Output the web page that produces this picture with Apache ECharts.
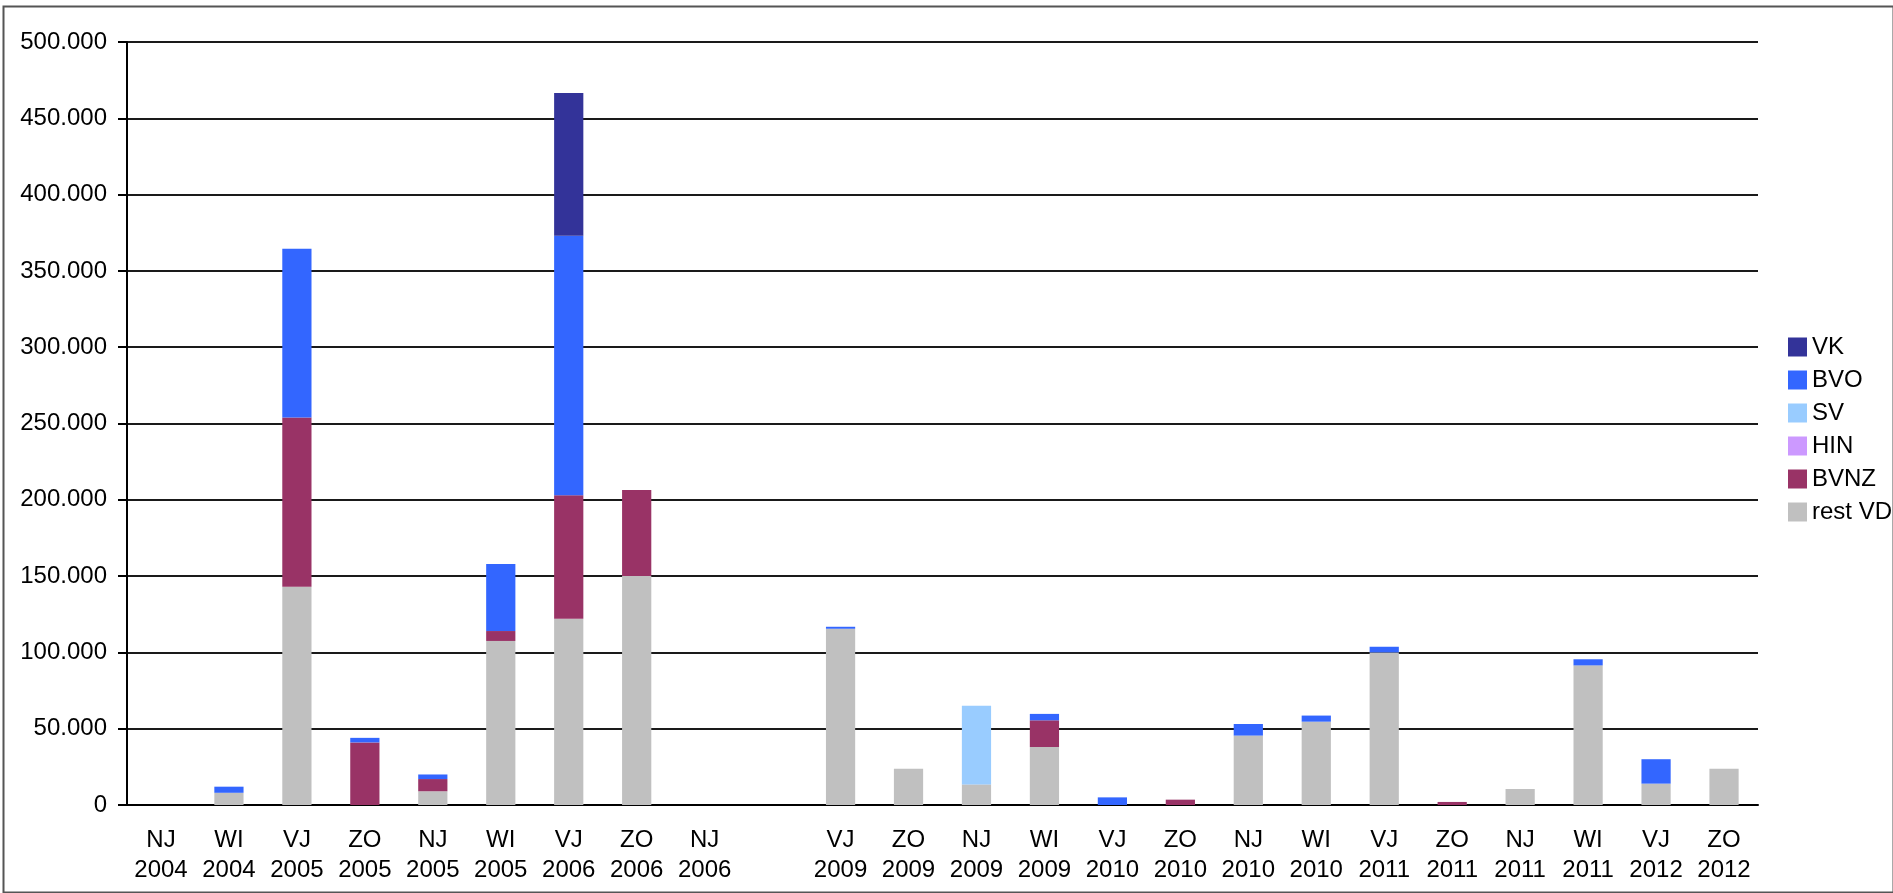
<!DOCTYPE html>
<html>
<head>
<meta charset="utf-8">
<script src="https://cdn.jsdelivr.net/npm/echarts@6/dist/echarts.min.js"></script>
<style>
html,body{margin:0;padding:0;background:#fff;}
#chart{width:1893px;height:893px;}
</style>
</head>
<body>
<div id="chart"></div>
<script>
// Categories (one empty slot between NJ 2006 and VJ 2009)
const categories = ['NJ 2004','WI 2004','VJ 2005','ZO 2005','NJ 2005','WI 2005','VJ 2006','ZO 2006','NJ 2006','',
  'VJ 2009','ZO 2009','NJ 2009','WI 2009','VJ 2010','ZO 2010','NJ 2010','WI 2010','VJ 2011','ZO 2011','NJ 2011','WI 2011','VJ 2012','ZO 2012'];

const restVD = [0, 8000, 143000, 0, 9000, 107500, 122000, 150000, 0, 0,
  115500, 23700, 13500, 38000, 0, 0, 45500, 54600, 100000, 0, 10500, 91500, 14000, 23700];
const BVNZ   = [0, 0, 111000, 41000, 8000, 6500, 81000, 56500, 0, 0,
  0, 0, 0, 17500, 0, 3500, 0, 0, 0, 2000, 0, 0, 0, 0];
const HIN    = [0, 0, 0, 0, 0, 0, 0, 0, 0, 0,
  0, 0, 0, 0, 0, 0, 0, 0, 0, 0, 0, 0, 0, 0];
const SV     = [0, 0, 0, 0, 0, 0, 0, 0, 0, 0,
  0, 0, 51500, 0, 0, 0, 0, 0, 0, 0, 0, 0, 0, 0];
const BVO    = [0, 4000, 110500, 3000, 3000, 44000, 170000, 0, 0, 0,
  1300, 0, 0, 4200, 5000, 0, 7600, 4000, 3700, 0, 0, 4000, 16000, 0];
const VK     = [0, 0, 0, 0, 0, 0, 93500, 0, 0, 0,
  0, 0, 0, 0, 0, 0, 0, 0, 0, 0, 0, 0, 0, 0];

const yMin = 0, yMax = 500000, yStep = 50000;
const legendOrder = ['VK','BVO','SV','HIN','BVNZ','rest VD'];

const colors = {
  'rest VD': '#C0C0C0', 'BVNZ': '#993366', 'HIN': '#CC99FF',
  'SV': '#99CCFF', 'BVO': '#3366FF', 'VK': '#333399'
};
const seriesList = [
  ['rest VD', restVD], ['BVNZ', BVNZ], ['HIN', HIN], ['SV', SV], ['BVO', BVO], ['VK', VK]
];

const font = 'Liberation Sans, Arial, sans-serif';
const fmt = v => String(v).replace(/\B(?=(\d{3})+(?!\d))/g, '.');

const chart = echarts.init(document.getElementById('chart'), null, {renderer: 'canvas'});
chart.setOption({
  animation: false,
  backgroundColor: '#fff',
  textStyle: {fontFamily: font},
  graphic: [{
    type: 'rect', left: 1, top: 4, silent: true,
    shape: {width: 1890, height: 886},
    style: {fill: 'none', stroke: '#555', lineWidth: 2}
  }],
  grid: {left: 127, right: 135, top: 42, bottom: 88, containLabel: false},
  legend: {
    orient: 'vertical', left: 1783, top: 330,
    data: legendOrder, icon: 'rect', itemWidth: 19, itemHeight: 19, itemGap: 9,
    textStyle: {fontSize: 24, color: '#000', fontFamily: font, lineHeight: 24},
    selectedMode: false
  },
  xAxis: {
    type: 'category', data: categories,
    axisLine: {show: true, lineStyle: {color: '#000', width: 2}},
    axisTick: {show: false},
    axisLabel: {
      interval: 0, fontSize: 24, color: '#000', fontFamily: font, lineHeight: 30, margin: 20,
      formatter: v => v.replace(' ', '\n')
    }
  },
  yAxis: {
    type: 'value', min: yMin, max: yMax, interval: yStep,
    axisLine: {show: true, lineStyle: {color: '#000', width: 2}},
    axisTick: {show: true, length: 9, lineStyle: {color: '#000', width: 2}},
    splitLine: {show: true, lineStyle: {color: '#1a1a1a', width: 2}},
    axisLabel: {fontSize: 24, color: '#000', fontFamily: font, margin: 20, formatter: fmt}
  },
  series: seriesList.map(([name, data]) => ({
    name, type: 'bar', stack: 'total', data,
    barWidth: '43%',
    itemStyle: {color: colors[name]}
  }))
});
</script>
</body>
</html>
